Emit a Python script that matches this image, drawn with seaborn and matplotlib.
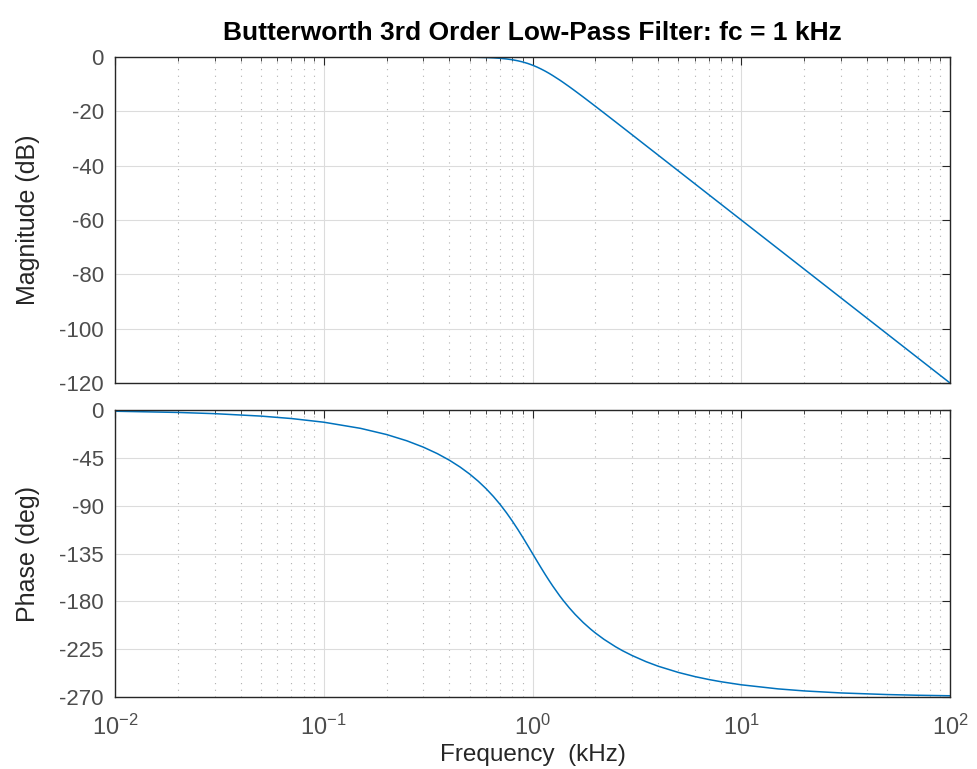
import numpy as np
import pandas as pd
import matplotlib
matplotlib.use("Agg")
import matplotlib.pyplot as plt
import matplotlib.ticker as mticker
import seaborn as sns

# frequency points (kHz) and values
freq_khz = [0.01, 0.02, 0.03, 0.05, 0.07, 0.1, 0.15, 0.2, 0.25, 0.3, 0.35, 0.4,
            0.45, 0.5, 0.55, 0.6, 0.65, 0.7, 0.75, 0.8, 0.85, 0.9, 0.95, 1.0,
            1.05, 1.1, 1.15, 1.2, 1.25, 1.35, 1.4, 1.5, 1.6, 1.75, 1.9, 2.0,
            2.2, 2.5, 2.7, 3.0, 3.5, 4.0, 5.0, 6.0, 7.0, 8.0, 10.0, 15.0, 20.0,
            30.0, 50.0, 70.0, 100.0]
magnitude_db = [0.0, 0.0, 0.0, 0.0, 0.0, 0.0, 0.0, 0.0, -0.001, -0.003, -0.008,
                -0.018, -0.036, -0.067, -0.119, -0.198, -0.316, -0.483, -0.711,
                -1.01, -1.39, -1.85, -2.39, -3.01, -3.69, -4.43, -5.2, -6.0,
                -6.83, -8.48, -9.31, -10.93, -12.5, -14.73, -16.82, -18.13,
                -20.58, -23.89, -25.89, -28.63, -32.65, -36.12, -41.94, -46.69,
                -50.71, -54.19, -60.0, -70.56, -78.06, -88.63, -101.94, -110.71,
                -120.0]
phase_deg = [-1.15, -2.29, -3.44, -5.73, -8.03, -11.48, -17.26, -23.08, -28.97,
             -34.95, -41.04, -47.26, -53.67, -60.26, -67.07, -74.11, -81.4,
             -88.9, -96.61, -104.43, -112.28, -120.07, -127.67, -135.0, -141.98,
             -148.54, -154.66, -160.33, -165.57, -174.83, -178.9, -186.1,
             -192.27, -199.95, -206.19, -209.74, -215.75, -222.74, -226.45,
             -230.98, -236.77, -241.03, -246.9, -250.81, -253.57, -255.63,
             -258.52, -262.36, -264.27, -266.18, -267.7, -268.36, -268.85]

mag_ticks = [0, -20, -40, -60, -80, -100, -120]
phase_ticks = [0, -45, -90, -135, -180, -225, -270]
decade_exps = [-2, -1, 0, 1, 2]

df = pd.DataFrame({'freq': freq_khz, 'mag': magnitude_db, 'phase': phase_deg})

sns.set_style('white')
plt.rcParams['font.family'] = ['Liberation Sans', 'DejaVu Sans']
plt.rcParams['axes.unicode_minus'] = False
plt.rcParams['mathtext.default'] = 'regular'

line_color = '#0072BD'
axis_color = '#262626'
tick_color = '#4d4d4d'

fig = plt.figure(figsize=(9.77, 7.69), dpi=100)
ax1 = fig.add_axes([115 / 977, 1 - 383 / 769, 835 / 977, 326 / 769])
ax2 = fig.add_axes([115 / 977, 1 - 697 / 769, 835 / 977, 287 / 769])

sns.lineplot(data=df, x='freq', y='mag', ax=ax1, color=line_color, linewidth=1.1)
sns.lineplot(data=df, x='freq', y='phase', ax=ax2, color=line_color, linewidth=1.1)

for ax, ticks, ylabel in [(ax1, mag_ticks, 'Magnitude (dB)'),
                          (ax2, phase_ticks, 'Phase (deg)')]:
    ax.set_xscale('log')
    ax.set_xlim(0.01, 100)
    ax.set_ylim(min(ticks), max(ticks))
    ax.set_yticks(ticks)
    ax.set_yticklabels([str(t) for t in ticks])
    ax.xaxis.set_minor_locator(mticker.LogLocator(base=10, subs=np.arange(2, 10), numticks=20))
    ax.xaxis.set_minor_formatter(mticker.NullFormatter())
    ax.grid(True, which='major', color='#dcdcdc', linewidth=0.8, linestyle='-')
    ax.grid(True, which='minor', axis='x', color='#b0b0b0', linewidth=0.8, linestyle=(0, (1, 5)))
    ax.set_axisbelow(True)
    for sp in ax.spines.values():
        sp.set_visible(True)
        sp.set_color(axis_color)
        sp.set_linewidth(1.0)
    ax.tick_params(axis='both', which='both', direction='in', top=True, right=True,
                   colors=axis_color, labelcolor=tick_color)
    ax.tick_params(axis='y', labelsize=16, pad=8)
    ax.tick_params(which='major', length=6)
    ax.tick_params(which='minor', length=3)
    ax.set_ylabel(ylabel, fontsize=18, color=axis_color, labelpad=14)
    ax.set_xlabel('')

ax1.set_xticks([10.0 ** e for e in decade_exps])
ax1.set_xticklabels([])
ax2.set_xticks([10.0 ** e for e in decade_exps])
ax2.set_xticklabels([r'$10^{%d}$' % e for e in decade_exps])
ax2.tick_params(axis='x', labelsize=17, pad=13)
ax2.set_xlabel('Frequency  (kHz)', fontsize=17.5, color=axis_color)
ax2.xaxis.set_label_coords(0.5, -0.165)

ax1.set_title('Butterworth 3rd Order Low-Pass Filter: fc = 1 kHz',
              fontsize=19, fontweight='bold', color='black', pad=12)

fig.savefig('out.png', dpi=100)
